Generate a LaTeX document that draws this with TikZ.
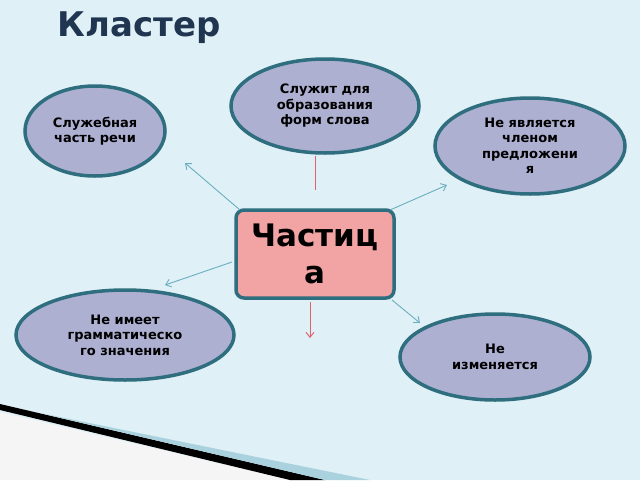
\documentclass[tikz,border=0pt]{standalone}
\usepackage{fontspec}
\setmainfont{DejaVu Sans}
\usetikzlibrary{shapes.geometric,arrows.meta}
\definecolor{bg}{HTML}{DFF0F6}
\definecolor{lav}{HTML}{AEB0D2}
\definecolor{teal}{HTML}{2E6E7E}
\definecolor{pinkf}{HTML}{F2A3A3}
\definecolor{arr}{HTML}{6AAEC0}
\definecolor{parr}{HTML}{E0606C}
\definecolor{navy}{HTML}{1F3550}
\tikzset{
 oval/.style={ellipse,draw=teal,line width=3.5pt,fill=lav,align=center,font=\bfseries\fontsize{13}{15.5}\selectfont,inner sep=0pt},
 con/.style={draw=arr,line width=0.9pt,-{Straight Barb[length=5pt,width=8pt]}},
 pcon/.style={draw=parr,line width=0.9pt}
}
\begin{document}
\begin{tikzpicture}[x=1pt,y=-1pt]
\fill[bg] (0,0) rectangle (640,480);
\useasboundingbox (0,0) rectangle (640,480);
% bottom-left decoration
\fill[white!92!gray] (0,412) -- (0,480) -- (290,480) -- cycle;
\fill[black] (0,404) -- (0,410) -- (290,480) -- (325,480) -- cycle;
\fill[arr!45!bg] (40,413) -- (325,480) -- (370,480) -- cycle;
\node[font=\bfseries\fontsize{34}{38}\selectfont,text=navy] (title) at (139,28) {Кластер};
\node[oval,minimum width=140pt,minimum height=90pt] (e1) at (95,131) {Служебная\\часть речи};
\node[oval,minimum width=188pt,minimum height=94pt] (e2) at (325,106) {Служит для\\образования\\форм слова};
\node[oval,minimum width=190pt,minimum height=96pt] (e3) at (530,146) {Не является\\членом\\предложени\\я};
\node[oval,minimum width=218pt,minimum height=90pt] (e4) at (125,335) {Не имеет\\грамматическо\\го значения};
\node[oval,minimum width=190pt,minimum height=86pt] (e5) at (495,357) {Не\\изменяется};
\node[draw=teal,line width=3.5pt,fill=pinkf,rounded corners=8pt,minimum width=158pt,minimum height=88pt,align=center,font=\bfseries\fontsize{31}{37}\selectfont] (c) at (315,254) {Частиц\\а};
\coordinate (a1) at (240,210); \coordinate (b1) at (185,163);
\coordinate (a2) at (390,210); \coordinate (b2) at (447,185);
\coordinate (a3) at (232,262); \coordinate (b3) at (165,285);
\coordinate (a4) at (392,300); \coordinate (b4) at (420,323);
\draw[con] (a1) -- (b1);
\draw[con] (a2) -- (b2);
\draw[con] (a3) -- (b3);
\draw[con] (a4) -- (b4);
\coordinate (p1) at (315,156); \coordinate (p2) at (315,190);
\coordinate (p3) at (310,302); \coordinate (p4) at (310,338);
\draw[pcon] (p1) -- (p2);
\draw[pcon,-{Straight Barb[length=5pt,width=8pt]}] (p3) -- (p4);
\end{tikzpicture}
\end{document}
